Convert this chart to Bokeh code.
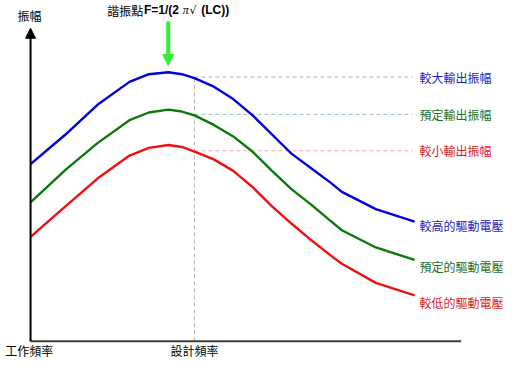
from bokeh.plotting import figure
from bokeh.models import Range1d, Arrow, NormalHead
from bokeh.core.properties import value
from bokeh.embed import file_html
from bokeh.resources import INLINE

# ---- data (frequency in arbitrary units, amplitude in arbitrary units) ----
freq = [0, 36, 69, 102, 122, 142, 156, 169, 189, 209, 229, 249, 269, 289, 309, 321, 356, 396]
amp_high = [185, 216, 247, 271, 279, 281, 279, 275, 266, 253, 236, 216, 196, 181, 166, 156, 138, 125]
amp_norm = [145, 179, 207, 231, 239, 242, 240, 236, 226, 214, 198, 178, 159, 143, 126, 116, 98, 85]
amp_low = [109, 141, 170, 194, 202, 205, 203, 198, 190, 178, 161, 141, 123, 106, 90, 81, 61, 48]

design_freq = 169
resonance_freq = 142
out_levels = [276, 237, 199]
out_end = 394
axis_x_max = 444
axis_y_max = 327

curve_colors = ["#0000dd", "#0a7a0a", "#ee1111"]
text_colors = ["#2424b8", "#1f6f1f", "#d81e1e"]
dash_colors = ["#a8a8e0", "#a0c4b8", "#f0aaaa"]

out_labels = ["較大輸出振幅", "預定輸出振幅", "較小輸出振幅"]
drive_labels = ["較高的驅動電壓", "預定的驅動電壓", "較低的驅動電壓"]
drive_label_y = [121, 78, 40]

FONT = value("Noto Sans CJK TC")
FS = value("12px")

p = figure(width=513, height=358, output_backend="svg", toolbar_location=None,
           x_range=Range1d(-31, 498), y_range=Range1d(-18, 356),
           x_axis_location=None, y_axis_location=None, min_border=0)
p.grid.visible = False
p.outline_line_color = None
p.background_fill_color = "white"

# dashed guides
p.segment(x0=[design_freq], y0=[0], x1=[design_freq], y1=[out_levels[0]],
          line_color="#b4b4b4", line_width=1, line_dash="4 3")
for lvl, c in zip(out_levels, dash_colors):
    p.segment(x0=[design_freq], y0=[lvl], x1=[out_end], y1=[lvl],
              line_color=c, line_width=1, line_dash="4 3")

# axes
p.segment(x0=[0], y0=[0], x1=[axis_x_max], y1=[0], line_color="#3c3c3c", line_width=2)
p.add_layout(Arrow(end=NormalHead(size=10, fill_color="black", line_color="black"),
                   x_start=0, y_start=0, x_end=0, y_end=axis_y_max,
                   line_color="black", line_width=2))

# curves
for amps, c in zip([amp_high, amp_norm, amp_low], curve_colors):
    p.line(freq, amps, line_color=c, line_width=2.4, line_join="round")

# resonance arrow
p.add_layout(Arrow(end=NormalHead(size=11, fill_color="#33ee33", line_color="#33ee33"),
                   x_start=resonance_freq, y_start=334, x_end=resonance_freq, y_end=288,
                   line_color="#33ee33", line_width=4))

# labels on the right
p.text(x=[out_end + 7] * 3, y=out_levels, text=out_labels, text_color=text_colors,
       text_font=FONT, text_font_size=FS, text_align="left", text_baseline="middle")
p.text(x=[out_end + 7] * 3, y=drive_label_y, text=drive_labels, text_color=text_colors,
       text_font=FONT, text_font_size=FS, text_align="left", text_baseline="middle")

# axis labels
p.text(x=[-1], y=[340], text=["振幅"], text_color="black", text_font=FONT,
       text_font_size=FS, text_align="center", text_baseline="middle")
p.text(x=[-26, design_freq], y=[-10, -10], text=["工作頻率", "設計頻率"], text_color="black",
       text_font=FONT, text_font_size=FS, text_align=["left", "center"],
       text_baseline="middle")

# title pieces
p.text(x=[79], y=[346], text=["諧振點"], text_color="black", text_font=FONT,
       text_font_size=FS, text_align="left", text_baseline="middle")
p.text(x=[117, 176], y=[346, 346], text=["F=1/(2", "(LC))"], text_color="black",
       text_font=value("Liberation Sans"), text_font_size=FS,
       text_font_style="bold", text_align="left", text_baseline="middle")
p.text(x=[157], y=[346], text=["π"], text_color="black", text_font=value("Liberation Serif"),
       text_font_size=FS, text_font_style="italic", text_align="left", text_baseline="middle")
p.text(x=[164], y=[346], text=["√"], text_color="black", text_font=value("DejaVu Sans"),
       text_font_size=value("11px"), text_align="left", text_baseline="middle")

open("out.html", "w").write(file_html(p, INLINE))
